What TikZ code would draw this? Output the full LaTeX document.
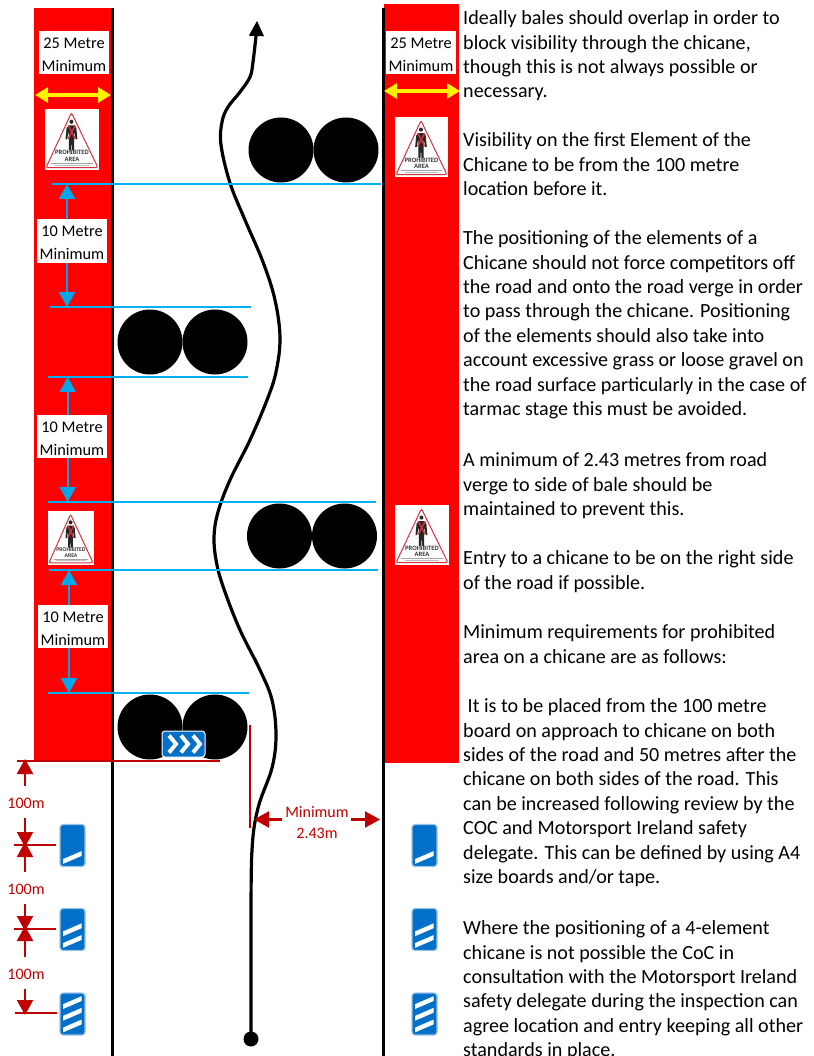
\documentclass[tikz,border=0pt]{standalone}
\usepackage{fontspec}
\setmainfont{Carlito}
\usepackage{xcolor}
\usetikzlibrary{arrows.meta,positioning,calc}
\definecolor{skyline}{HTML}{00B0F0}
\definecolor{skyarrow}{HTML}{00A7EA}
\definecolor{darkred}{HTML}{C00000}
\definecolor{boardblue}{HTML}{0070C8}
\definecolor{boardedge}{HTML}{9CC3E6}
\definecolor{signred}{HTML}{D0343C}
\newcommand{\labelstrut}{\rule{0pt}{15pt}}

\begin{document}
\begin{tikzpicture}[
    x=1pt,
    y=-1pt,
    bodytext/.style={
        anchor=north west,
        align=left,
        inner sep=0pt,
        font=\fontsize{20.1}{24.4}\selectfont
    },
    whitelabel/.style={
        fill=white,
        align=center,
        inner sep=0pt,
        minimum width=70pt,
        minimum height=43.5pt,
        font=\fontsize{16.3}{23}\selectfont
    },
    redlabel/.style={
        align=center,
        inner sep=0pt,
        text=darkred,
        font=\fontsize{16}{21}\selectfont
    },
    bale/.style={
        circle,
        fill=black,
        inner sep=0pt,
        minimum size=65pt
    },
    board/.style={
        draw=boardedge,
        fill=boardblue,
        rounded corners=3pt,
        line width=1.2pt,
        inner sep=0pt,
        minimum width=25pt,
        minimum height=42pt
    },
    roadline/.style={line width=3pt, black},
    limitline/.style={line width=2.5pt, skyline},
    redline/.style={line width=2.2pt, darkred},
    bluearrow/.style={-{Triangle[length=15pt,width=16pt]}, line width=2.4pt, color=skyarrow},
    yellowarrow/.style={{Triangle[length=13pt,width=15pt]}-{Triangle[length=13pt,width=15pt]}, line width=4pt, yellow},
    redarrow/.style={-{Triangle[length=15pt,width=16pt]}, line width=2.2pt, darkred}
]
\useasboundingbox (0,0) rectangle (813,1056);
\clip (0,0) rectangle (813,1056);

% Prohibited strips either side of the road
\fill[red] (34,8) rectangle (111,760);
\fill[red] (384,4) rectangle (459,763);

% Road edges
\coordinate (roadLtop) at (112,8);
\coordinate (roadLend) at (112,1056);
\coordinate (roadRtop) at (383,8);
\coordinate (roadRend) at (383,1056);
\draw[roadline] (roadLtop) -- (roadLend);
\draw[roadline] (roadRtop) -- (roadRend);

% Racing line
\node[circle, fill=black, inner sep=0pt, minimum size=15pt] (startdot) at (251,1039) {};
\coordinate (linetip) at (257,21);
\draw[line width=3.2pt, black] plot[smooth, tension=0.6] coordinates {
    (251,1039) (251,930) (252,850) (258,808) (272,768) (276,735) (272,700) (260,670)
    (240,630) (225,592) (217,565) (214,538) (218,512) (230,480) (250,440) (267,400)
    (276,372) (280,338) (275,300) (263,262) (245,220) (230,183) (221,145) (222,122)
    (228,107) (240,92) (250,77) (253,62) (256,36)};
\draw[-{Triangle[length=15pt,width=15pt]}, line width=1pt] (256.5,34) -- (linetip);

% Bales
\node[bale] (balea1) at (281,150) {};
\node[bale] (balea2) at (346,150) {};
\node[bale] (baleb1) at (150,342) {};
\node[bale] (baleb2) at (215,342) {};
\node[bale] (balec1) at (279.5,536) {};
\node[bale] (balec2) at (344.5,536) {};
\node[bale] (baled1) at (150,727) {};
\node[bale] (baled2) at (215,727) {};

% Limit lines
\foreach \nm/\ya/\xa/\xb in {a/184/52/381, b/307/50/251, c/377/48/248, d/502/48/376, e/570/49/378, f/693/48/249} {
    \coordinate (lim\nm l) at (\xa,\ya);
    \coordinate (lim\nm r) at (\xb,\ya);
    \draw[limitline] (lim\nm l) -- (lim\nm r);
}

% Width labels at top of each strip
\node[whitelabel] (widthL) at (74,52.5) {\labelstrut 25 Metre\\Minimum};
\node[whitelabel] (widthR) at (421,52.5) {\labelstrut 25 Metre\\Minimum};
\coordinate (widthLa) at (35,95);
\coordinate (widthLb) at (111,95);
\coordinate (widthRa) at (384,91);
\coordinate (widthRb) at (460,91);
\draw[yellowarrow] (widthLa) -- (widthLb);
\draw[yellowarrow] (widthRa) -- (widthRb);

% Gap labels
\node[whitelabel] (gapa) at (72,241) {\labelstrut 10 Metre\\Minimum};
\node[whitelabel] (gapb) at (72,436.5) {\labelstrut 10 Metre\\Minimum};
\node[whitelabel] (gapc) at (73,626.5) {\labelstrut 10 Metre\\Minimum};

\coordinate (stema) at (67,0);
\coordinate (stemb) at (67.7,0);
\coordinate (stemc) at (69,0);
\draw[bluearrow] (stema |- gapa.north) -- (stema |- limal);
\draw[bluearrow] (stema |- gapa.south) -- (stema |- limbl);
\draw[bluearrow] (stemb |- gapb.north) -- (stemb |- limcl);
\draw[bluearrow] (stemb |- gapb.south) -- (stemb |- limdl);
\draw[bluearrow] (stemc |- gapc.north) -- (stemc |- limel);
\draw[bluearrow] (stemc |- gapc.south) -- (stemc |- limfl);

% Prohibited area signs
\foreach \i/\sx/\sy/\sw/\sh/\fs in {1/45/109/54/61/6.6, 2/395/117/53/60/6.6, 3/48/511/46/54/5.7, 4/395/505/54/60/6.6} {
    \begin{scope}[shift={(\sx,\sy)}, x=\sw pt, y=-\sh pt]
        \fill[white] (0,0) rectangle (1,1);
        \draw[signred, line width=1pt, rounded corners=2pt] (.49,.06) -- (.98,.96) -- (.02,.96) -- cycle;
        \fill[black!85] (.49,.21) circle[radius=2pt];
        \fill[black!85] (.44,.27) -- (.54,.27) -- (.58,.31) -- (.60,.50) -- (.57,.50) -- (.54,.36) -- (.54,.68) -- (.50,.68) -- (.49,.52) -- (.48,.68) -- (.44,.68) -- (.44,.36) -- (.41,.50) -- (.38,.50) -- (.40,.31) -- cycle;
        \draw[signred, line width=1.4pt] (.43,.27) -- (.56,.49);
        \draw[signred, line width=1.4pt] (.56,.27) -- (.43,.49);
        \node[inner sep=0pt, align=center, font=\fontsize{\fs}{\fs}\selectfont\bfseries, text=black!80] (signtext\i) at (.5,.77) {PROHIBITED\\AREA};
        \fill[gray!70] (.12,.88) rectangle (.88,.895);
        \fill[gray!50] (.18,.91) rectangle (.82,.925);
    \end{scope}
}

% Chevron board on last bale
\node[board, minimum width=43pt, minimum height=26pt, draw=white, line width=1pt] (chevron) at (183.5,744) {};
\foreach \cx in {169,181,193} {
    \draw[white, line width=4pt] (\cx,735.5) -- (\cx+7,744) -- (\cx,752.5);
}

% Red 100m markers
\coordinate (marka) at (25,761);
\coordinate (markastart) at (17,761);
\coordinate (markaend) at (220,761);
\coordinate (markb) at (25,845);
\coordinate (markbstart) at (14,845);
\coordinate (markbend) at (56,845);
\coordinate (markc) at (25,929);
\coordinate (markcstart) at (14,929);
\coordinate (markcend) at (56,929);
\coordinate (markd) at (25,1013);
\coordinate (markdstart) at (15,1013);
\coordinate (markdend) at (57,1013);
\draw[redline] (markastart) -- (markaend);
\draw[redline] (markbstart) -- (markbend);
\draw[redline] (markcstart) -- (markcend);
\draw[redline] (markdstart) -- (markdend);

\node[redlabel] (dista) at (26,803) {100m};
\node[redlabel] (distb) at (26,889) {100m};
\node[redlabel] (distc) at (26,974) {100m};
\draw[redarrow] (25,786) -- ([yshift=2pt]marka);
\draw[redarrow] (25,818) -- ([yshift=-2pt]markb);
\draw[redarrow] (25,872) -- ([yshift=3pt]markb);
\draw[redarrow] (25,904) -- ([yshift=-2pt]markc);
\draw[redarrow] (25,957) -- ([yshift=3pt]markc);
\draw[redarrow] (25,989) -- ([yshift=-2pt]markd);

% Verge to bale distance
\coordinate (vergetop) at (250,725);
\coordinate (vergeend) at (250,828);
\draw[redline] (vergetop) -- (vergeend);
\node[redlabel] (vergelabel) at (317,823) {Minimum\\2.43m};
\draw[redarrow] (282,819.5) -- (254,819.5);
\draw[redarrow] (351,819.5) -- (380,819.5);

% Distance boards
\foreach \nm/\bx/\by/\n in {al/72.5/845.5/1, bl/72.5/929.5/2, cl/72.5/1014/3, ar/424.5/845.5/1, br/424.5/929.5/2, cr/424.5/1014/3} {
    \node[board] (board\nm) at (\bx,\by) {};
    \foreach \k in {1,...,\n} {
        \fill[white] ($(board\nm.center)+(-9.5,{16-(\k-1)*11.7-2.4})$) -- ($(board\nm.center)+(9,{8-(\k-1)*11.7-2.4})$)
            -- ($(board\nm.center)+(9,{8-(\k-1)*11.7+2.4})$) -- ($(board\nm.center)+(-9.5,{16-(\k-1)*11.7+2.4})$) -- cycle;
    }
}

% Notes
\node[bodytext] (notea) at (463,10.5) {Ideally bales should overlap in order to\\block visibility through the chicane,\\though this is not always possible or\\necessary.};
\node[bodytext] (noteb) at (463,132.5) {Visibility on the first Element of the\\Chicane to be from the 100 metre\\location before it.};
\node[bodytext] (notec) at (463,230.5) {The positioning of the elements of a\\Chicane should not force competitors off\\the road and onto the road verge in order\\to pass through the chicane. Positioning\\of the elements should also take into\\account excessive grass or loose gravel on\\the road surface particularly in the case of\\tarmac stage this must be avoided.};
\node[bodytext] (noted) at (463,452.5) {A minimum of 2.43 metres from road\\verge to side of bale should be\\maintained to prevent this.};
\node[bodytext] (notee) at (463,550.5) {Entry to a chicane to be on the right side\\of the road if possible.};
\node[bodytext] (notef) at (463,624.5) {Minimum requirements for prohibited\\area on a chicane are as follows:};
\node[bodytext] (noteg) at (463,698.5) {\hspace*{4.5pt}It is to be placed from the 100 metre\\board on approach to chicane on both\\sides of the road and 50 metres after the\\chicane on both sides of the road. This\\can be increased following review by the\\COC and Motorsport Ireland safety\\delegate. This can be defined by using A4\\size boards and/or tape.};
\node[bodytext] (noteh) at (463,920.5) {Where the positioning of a 4-element\\chicane is not possible the CoC in\\consultation with the Motorsport Ireland\\safety delegate during the inspection can\\agree location and entry keeping all other\\standards in place.};

\end{tikzpicture}
\end{document}
